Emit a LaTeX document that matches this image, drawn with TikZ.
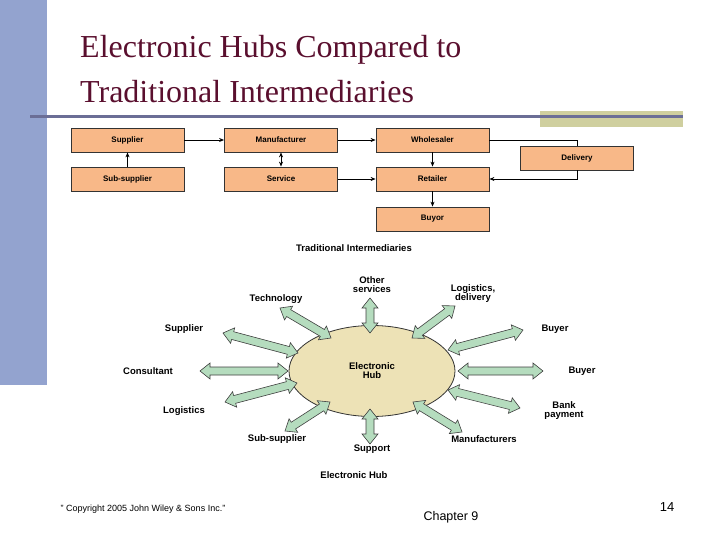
\documentclass[tikz,border=0pt]{standalone}
\usepackage{fontspec}
\setmainfont{Liberation Serif}
\setsansfont{Liberation Sans}
\usetikzlibrary{calc,arrows.meta,shapes.geometric}
\definecolor{barblue}{HTML}{93A3CF}
\definecolor{linecol}{HTML}{6B6E96}
\definecolor{olive}{HTML}{CFCF9F}
\definecolor{titlecol}{HTML}{5A0F2E}
\definecolor{boxfill}{HTML}{F8B888}
\definecolor{hubfill}{HTML}{EDE2B6}
\definecolor{arrfill}{HTML}{B5DCBE}
\tikzset{
  tbox/.style={draw=black!80, line width=0.8pt, fill=boxfill, minimum width=113pt, minimum height=24pt, inner sep=0pt, font=\sffamily\bfseries\fontsize{8}{9}\selectfont},
  tarr/.style={-{Stealth[length=5pt,width=4pt]}, line width=0.8pt},
  lbl/.style={font=\sffamily\bfseries\fontsize{9.5}{9}\selectfont, align=center, inner sep=0pt},
  harr/.style={draw=black!75, line width=0.6pt, fill=arrfill},
}
\newcommand\dblarr[2]{%
  \coordinate (h1) at ($(#1)!10pt!(#2)$);
  \coordinate (h2) at ($(#2)!10pt!(#1)$);
  \draw[harr] (#1) -- ($(h1)!8pt!90:(#2)$) -- ($(h1)!4pt!90:(#2)$) -- ($(h2)!4pt!-90:(#1)$) -- ($(h2)!8pt!-90:(#1)$) -- (#2)
   -- ($(h2)!8pt!90:(#1)$) -- ($(h2)!4pt!90:(#1)$) -- ($(h1)!4pt!-90:(#2)$) -- ($(h1)!8pt!-90:(#2)$) -- cycle;}
\begin{document}
\begin{tikzpicture}[x=1pt,y=-1pt]
\useasboundingbox (0,0) rectangle (720,540);
\fill[white] (0,0) rectangle (720,540);
\fill[barblue] (0,0) rectangle (47,385);
\fill[olive] (540,111) rectangle (683,127);
\draw[linecol, line width=3pt] (30,117) -- (683,117);
\node[anchor=base west, text=titlecol, font=\fontsize{32}{36}\selectfont, inner sep=0pt] (t1) at (80,58) {Electronic Hubs Compared to};
\node[anchor=base west, text=titlecol, font=\fontsize{32}{36}\selectfont, inner sep=0pt] (t2) at (80,103) {Traditional Intermediaries};
% traditional
\node[tbox] (sup) at (127.5,140) {Supplier};
\node[tbox] (man) at (281,140) {Manufacturer};
\node[tbox] (who) at (432.5,140) {Wholesaler};
\node[tbox] (del) at (577,158) {Delivery};
\node[tbox] (sub) at (127.5,179) {Sub-supplier};
\node[tbox] (ser) at (281,179) {Service};
\node[tbox] (ret) at (432.5,179) {Retailer};
\node[tbox] (buy) at (432.5,219) {Buyor};
\draw[tarr] (sup) -- (man);
\draw[tarr] (man) -- (who);
\draw[tarr] (sub) -- (sup);
\draw[tarr,{Stealth[length=5pt,width=4pt]}-{Stealth[length=5pt,width=4pt]}] (man) -- (ser);
\draw[tarr] (ser) -- (ret);
\draw[tarr] (who) -- (ret);
\draw[tarr] (ret) -- (buy);
\draw[line width=0.8pt] (who.east) -| (del.north);
\draw[tarr] (del.south) |- (ret.east);
\node[lbl] (cap1) at (354,248) {Traditional Intermediaries};
% hub
\node[draw=black!80, line width=0.8pt, fill=hubfill, ellipse, minimum width=166pt, minimum height=91pt, lbl] (hub) at (372,371) {Electronic\\Hub};
\coordinate (a1) at (370,298); \coordinate (b1) at (370,333);
\coordinate (a2) at (370,409); \coordinate (b2) at (370,444);
\coordinate (a3) at (200,371); \coordinate (b3) at (288,371);
\coordinate (a4) at (458,371); \coordinate (b4) at (543,371);
\coordinate (a5) at (280,308); \coordinate (b5) at (331,338);
\coordinate (a6) at (412,338); \coordinate (b6) at (455,306);
\coordinate (a7) at (223,333); \coordinate (b7) at (298,353);
\coordinate (a8) at (448,350); \coordinate (b8) at (523,330);
\coordinate (a9) at (225,402); \coordinate (b9) at (297,383);
\coordinate (a10) at (448,390); \coordinate (b10) at (520,408);
\coordinate (a11) at (285,431); \coordinate (b11) at (330,402);
\coordinate (a12) at (413,402); \coordinate (b12) at (462,432);
\foreach \i in {1,...,12}{\dblarr{a\i}{b\i}}
\node[lbl] (l1) at (372,285) {Other\\services};
\node[lbl] (l2) at (372,449) {Support};
\node[lbl] (l3) at (148,371) {Consultant};
\node[lbl] (l4) at (582,371) {Buyer};
\node[lbl] (l5) at (276,299) {Technology};
\node[lbl] (l6) at (473,294) {Logistics,\\delivery};
\node[lbl] (l7) at (184,329) {Supplier};
\node[lbl] (l8) at (555,329) {Buyer};
\node[lbl] (l9) at (184,411) {Logistics};
\node[lbl] (l10) at (564,411) {Bank\\payment};
\node[lbl] (l11) at (277,439) {Sub-supplier};
\node[lbl] (l12) at (484,439) {Manufacturers};
\node[lbl] (cap2) at (354,475) {Electronic Hub};
% footer
\node[font=\sffamily\fontsize{9}{10}\selectfont, inner sep=0pt] (f1) at (143,509) {" Copyright 2005 John Wiley \& Sons Inc."};
\node[font=\sffamily\fontsize{12.5}{14}\selectfont, inner sep=0pt] (f2) at (451,517) {Chapter 9};
\node[font=\sffamily\fontsize{13}{14}\selectfont, inner sep=0pt] (f3) at (667,507) {14};
\end{tikzpicture}
\end{document}
